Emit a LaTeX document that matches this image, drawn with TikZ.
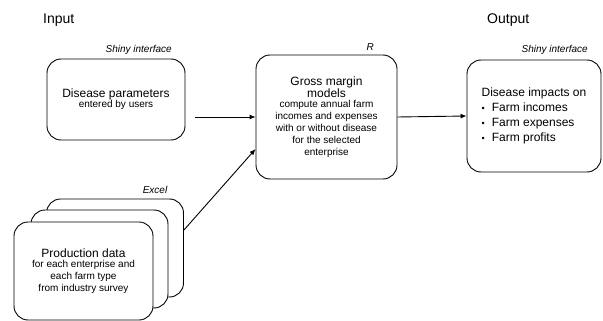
\documentclass[tikz,border=0pt]{standalone}
\usepackage{fontspec}
\setmainfont{Liberation Sans}
\usetikzlibrary{arrows.meta}
\tikzset{
  box/.style={draw, line width=0.9pt, rounded corners=14pt, fill=white, align=center, inner sep=2pt},
  lbl/.style={inner sep=0pt, font=\fontsize{10}{12}\selectfont\itshape},
  hdr/.style={inner sep=0pt, font=\fontsize{14}{16}\selectfont},
  conn/.style={line width=0.9pt, -{Latex[length=6pt,width=5pt]}},
  big/.style={},
}
\newcommand{\bigtxt}{\fontsize{12}{15}\selectfont}
\newcommand{\smalltxt}{\fontsize{10}{12.3}\selectfont}
\begin{document}
\begin{tikzpicture}[x=1pt,y=-1pt]
\useasboundingbox (0,0) rectangle (603,321);
% headers
\node[hdr, anchor=west] (input) at (43,20) {Input};
\node[hdr, anchor=west] (output) at (487,20) {Output};
% box 1
\node[box, minimum width=138pt, minimum height=81pt] (dp) at (116,99.5)
  {\bigtxt Disease parameters\\[-2pt]\smalltxt entered by users};
\node[lbl, anchor=east] (shiny1) at (172,50) {Shiny interface};
% box 2
\node[box, minimum width=141pt, minimum height=124pt] (gm) at (326.5,117)
  {\bigtxt Gross margin\\\bigtxt models\\[-2pt]\smalltxt compute annual farm\\\smalltxt incomes and expenses\\\smalltxt with or without disease\\\smalltxt for the selected\\\smalltxt enterprise};
\node[lbl, anchor=east] (rlbl) at (374,47) {R};
% box 3
\node[box, minimum width=134pt, minimum height=112pt] (di) at (534,116)
  {\bigtxt\begin{tabular}{@{}l@{\hspace{7pt}}l@{}}
   \multicolumn{2}{@{}l@{}}{Disease impacts on}\\
   {\small\textbullet} & Farm incomes\\
   {\small\textbullet} & Farm expenses\\
   {\small\textbullet} & Farm profits
   \end{tabular}};
\node[lbl, anchor=east] (shiny2) at (588,50) {Shiny interface};
% stacked production data
\node[box, minimum width=137pt, minimum height=98pt] (back) at (115,248) {};
\node[box, minimum width=137pt, minimum height=98pt] (mid) at (99.5,259) {};
\node[box, minimum width=139pt, minimum height=98pt] (front) at (83.5,271)
  {\bigtxt Production data\\[-2pt]\smalltxt for each enterprise and\\\smalltxt each farm type\\\smalltxt from industry survey};
\node[lbl] (excel) at (155,190) {Excel};
% connectors
\coordinate (a1) at (195,117);
\draw[conn] (a1) -- (a1 -| gm.west);
\draw[conn] (gm.east) -- (di.west);
\draw[conn] ([yshift=18pt]back.east) -- ([yshift=-32pt]gm.west);
\end{tikzpicture}
\end{document}
